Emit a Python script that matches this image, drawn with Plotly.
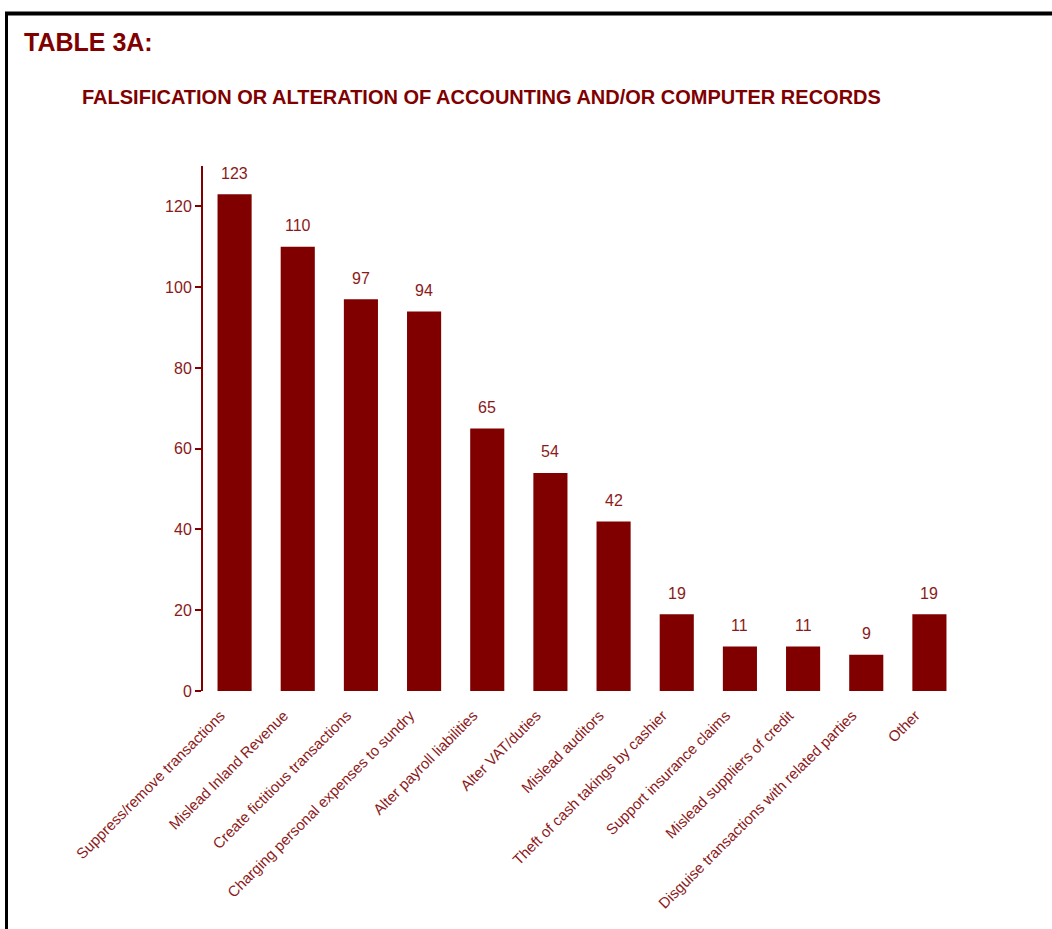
import plotly.graph_objects as go

# Chart data
categories = [
    "Suppress/remove transactions",
    "Mislead Inland Revenue",
    "Create fictitious transactions",
    "Charging personal expenses to sundry",
    "Alter payroll liabilities",
    "Alter VAT/duties",
    "Mislead auditors",
    "Theft of cash takings by cashier",
    "Support insurance claims",
    "Mislead suppliers of credit",
    "Disguise transactions with related parties",
    "Other",
]
counts = [123, 110, 97, 94, 65, 54, 42, 19, 11, 11, 9, 19]
y_ticks = [0, 20, 40, 60, 80, 100, 120]

title_text = "TABLE 3A:"
subtitle_text = "FALSIFICATION OR ALTERATION OF ACCOUNTING AND/OR COMPUTER RECORDS"

# Page geometry (pixels)
W, H = 1052, 929
ML, MR, MT, MB = 203, 91, 166, 238
PW, PH = W - ML - MR, H - MT - MB

BAR = "#800000"
TXT = "#8b1a1a"
FONT = "Liberation Sans, Arial, sans-serif"


def px_x(px):
    return (px - ML) / PW


def px_y(py):
    return (H - MB - py) / PH


fig = go.Figure(
    go.Bar(
        x=categories,
        y=counts,
        marker=dict(color=BAR, line=dict(width=0)),
        hoverinfo="x+y",
    )
)

# Value labels above each bar
for cat, val in zip(categories, counts):
    fig.add_annotation(
        x=cat, y=val, xref="x", yref="y",
        text=str(val), showarrow=False,
        yanchor="middle", yshift=21,
        font=dict(family=FONT, size=16, color=TXT),
    )

# Headings
fig.add_annotation(
    x=px_x(22), y=px_y(42), xref="paper", yref="paper",
    text="<b>" + title_text + "</b>", showarrow=False,
    xanchor="left", yanchor="middle",
    font=dict(family=FONT, size=25, color=BAR),
)
fig.add_annotation(
    x=px_x(80), y=px_y(97), xref="paper", yref="paper",
    text="<b>" + subtitle_text + "</b>", showarrow=False,
    xanchor="left", yanchor="middle",
    font=dict(family=FONT, size=20, color=BAR),
)

# Frame lines along top and left edges
fig.add_shape(type="line", xref="paper", yref="paper",
              x0=px_x(5), x1=px_x(W + 5), y0=px_y(13.5), y1=px_y(13.5),
              line=dict(color="black", width=4))
fig.add_shape(type="line", xref="paper", yref="paper",
              x0=px_x(6.5), x1=px_x(6.5), y0=px_y(12), y1=px_y(H + 5),
              line=dict(color="black", width=3))

fig.update_layout(
    width=W, height=H,
    margin=dict(l=ML, r=MR, t=MT, b=MB, pad=0),
    paper_bgcolor="white", plot_bgcolor="white",
    showlegend=False,
    bargap=0.46,
    font=dict(family=FONT, color=TXT),
    xaxis=dict(
        range=[-0.5, len(categories) - 0.5],
        tickangle=-45,
        showline=False, showgrid=False, zeroline=False,
        ticks="",
        ticklabelstandoff=12,
        ticklabelshift=-14,
        tickfont=dict(family=FONT, size=15, color=TXT),
    ),
    yaxis=dict(
        range=[0, 130],
        tickvals=y_ticks,
        showline=True, linecolor=BAR, linewidth=2,
        ticks="outside", ticklen=6, tickwidth=2, tickcolor=BAR,
        showgrid=False, zeroline=False,
        tickfont=dict(family=FONT, size=16, color=TXT),
    ),
)

fig.write_html("out.html")
